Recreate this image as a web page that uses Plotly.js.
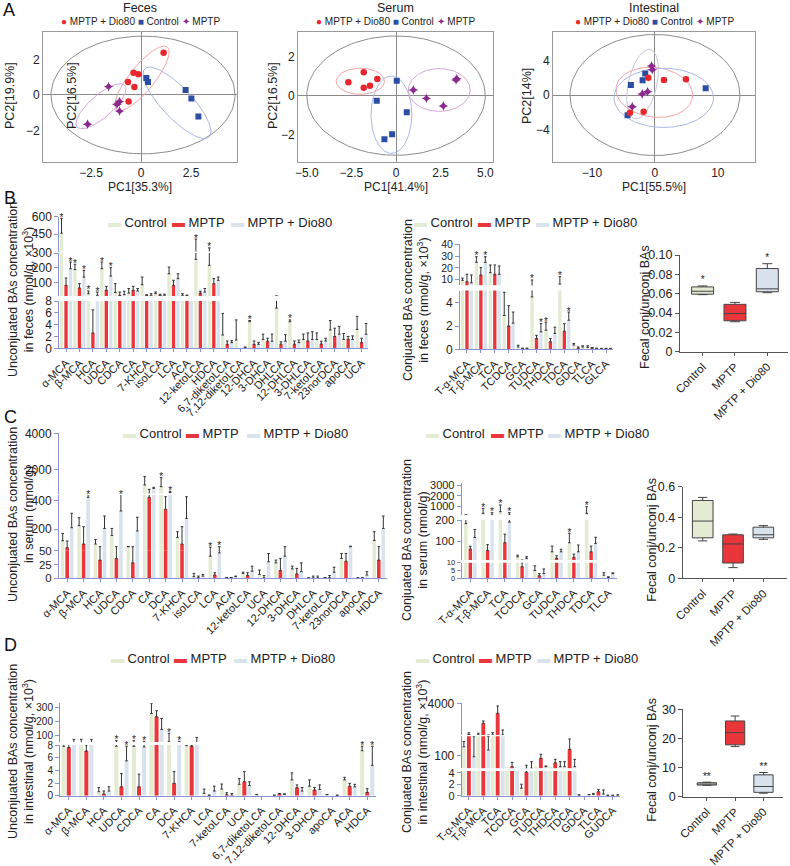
<!DOCTYPE html>
<html><head><meta charset="utf-8">
<script src="https://cdn.plot.ly/plotly-3.0.1.min.js"></script>
<style>html,body{margin:0;padding:0;background:#fff}#chart{width:790px;height:866px}</style>
</head><body><div id="chart"></div>
<script>
// ================= DATA =================
// ---- A: PCA scores ----
const fecesDioX = [1.13,-0.37,-0.13,-0.65,-0.33,-0.62];
const fecesDioY = [2.37,1.25,1.16,0.73,0.45,-0.37];
const fecesCtlX = [0.27,0.35,2.23,2.52,2.87];
const fecesCtlY = [0.95,0.73,0.28,-0.19,-1.21];
const fecesMptpX = [-1.62,-1.07,-1.2,-1.07,-2.67];
const fecesMptpY = [0.47,-0.37,-0.52,-0.9,-1.64];
const fecesEllOuter = [0.1,0,4.6,3.3,0];
const fecesEllDio = [0.05,0.93,2.17,0.65,54.8];
const fecesEllCtl = [1.8,-0.44,2.5,0.8,-50.8];
const fecesEllMptp = [-2.0,-0.63,1.67,0.6,45.4];

const serumDioX = [-2.67,-1.81,-1.05,-1.46,-1.81];
const serumDioY = [0.69,1.2,0.86,0.51,0.41];
const serumCtlX = [0.04,-1.08,0.6,-0.22,-0.65];
const serumCtlY = [0.77,-0.26,-0.86,-1.99,-2.25];
const serumMptpX = [0.97,1.7,2.65,3.36,3.4];
const serumMptpY = [0.29,-0.14,-0.53,0.81,0.87];
const serumEllOuter = [0,0,5.0,3.07,0];
const serumEllDio = [-2.0,0.74,1.35,0.67,0];
const serumEllCtl = [-0.26,-0.98,1.14,1.99,0];
const serumEllMptp = [2.42,0.29,1.73,1.1,0];

const intDioX = [-1.06,1.43,4.93,-1.8,-3.98];
const intDioY = [2.02,1.75,1.83,-1.94,-2.06];
const intCtlX = [-1.54,-1.96,-3.82,8.06,-4.35];
const intCtlY = [2.52,1.71,1.17,0.78,-2.37];
const intMptpX = [-0.53,-0.42,-1.17,-2.02,-3.6];
const intMptpY = [3.38,2.95,0.39,0.12,-1.36];
const intEllOuter = [0,0,13.5,7.05,0];
const intEllDio = [-0.1,0.31,6.1,2.9,-4];
const intEllCtl = [1.4,-0.33,7.9,3.45,0];
const intEllMptp = [-1.97,1.27,4.22,2.2,70];

// ---- B: feces ----
const B_un_cats = ['α-MCA','β-MCA','HCA','UDCA','CDCA','CA','7-KHCA','isoLCA','LCA','ACA','12-ketoLCA','HDCA','6,7-diketoLCA','7,12-diketoLCA','12-DHCA','3-DHCA','DHLCA','12-DHLCA','3-DHLCA','7-ketoLCA','23norDCA','apoCA','UCA'];
const B_un_ctl     = [458,188,26,194,33,30,86,26,160,15,257,217,2.25,1.4,4.5,1.5,6.8,4.5,1.5,1.5,3.1,1.5,3.2];
const B_un_ctlTop  = [586,224,44,239,93,60,138,37,205,26,407,331,5.9,4.8,4.7,2.4,11,4.8,2.4,2.6,4.7,2.5,5.4];
const B_un_mptp    = [82,64,2.6,48,15,48,15,15,82,12,30,93,0.68,0,0.68,1.2,0.7,0.7,1.24,0.73,2.0,1.5,0.96];
const B_un_mptpTop = [131,93,6.5,75,37,75,19,22,116,16,42,127,1.24,0,1.24,1.7,1.1,1.24,2.6,1.2,3.4,2.0,1.7];
const B_un_dio     = [194,138,15,145,19,44,15,15,127,8.5,37,116,0.96,0.17,0.68,1.2,1.2,0.96,1.5,1.24,2.4,1.5,2.4];
const B_un_dioTop  = [239,183,37,201,42,60,26,22,160,9,60,138,1.3,0.2,1.0,2.4,2.3,1.4,2.8,1.7,3.7,2.1,4.2];
const B_un_ctlStar = [1,1,1,1,0,0,0,0,0,0,1,1,0,0,1,0,0,1,0,0,0,0,0];
const B_un_mptpStar= [0,0,0,0,0,0,0,0,0,0,0,0,0,0,0,0,0,0,0,0,0,0,0];
const B_un_dioStar = [1,1,1,1,0,0,0,0,0,0,0,0,0,0,0,0,0,0,0,0,0,0,0];

const B_cj_cats = ['T-α-MCA','T-β-MCA','TCA','TCDCA','GCA','TUDCA','THDCA','TDCA','GDCA','TLCA','GLCA'];
const B_cj_ctl     = [9.3,24.8,15.9,2.9,0.2,4.5,1.64,6.1,0.37,0.17,0.05];
const B_cj_ctlTop  = [11.2,29.6,22.5,4.9,0.35,9.6,2.34,12.4,0.5,0.3,0.08];
const B_cj_mptp    = [8.1,13.9,14.5,2.0,0.05,0.93,0.64,1.55,0.1,0.1,0.05];
const B_cj_mptpTop = [14.5,20.2,22.5,3.75,0.1,1.2,0.93,2.2,0.2,0.15,0.08];
const B_cj_dio     = [7.2,24.8,14.5,2.25,0.05,1.5,1.36,2.5,0.2,0.05,0.05];
const B_cj_dioTop  = [13.9,29.6,21.6,3.2,0.1,2.2,1.9,3.2,0.3,0.1,0.08];
const B_cj_ctlStar = [0,1,0,0,0,1,1,1,0,0,0];
const B_cj_mptpStar= [0,0,0,0,0,0,0,0,0,0,0];
const B_cj_dioStar = [0,1,0,0,0,1,0,1,0,0,0];

const boxCats = ['Control','MPTP','MPTP + Dio80'];
const B_box_low = [0.059,0.031,0.061];
const B_box_q1  = [0.0595,0.032,0.062];
const B_box_med = [0.0625,0.0395,0.065];
const B_box_q3  = [0.067,0.049,0.086];
const B_box_high= [0.068,0.051,0.091];
const B_box_star= ['*','','*'];

// ---- C: serum ----
const C_un_cats = ['α-MCA','β-MCA','HCA','UDCA','CDCA','CA','DCA','7-KHCA','isoLCA','LCA','ACA','12-ketoLCA','UCA','12-DHCA','3-DHCA','DHLCA','7-ketoLCA','23norDCA','apoCA','HDCA'];
const C_un_ctl     = [120,225,97,157,78,1130,1037,143,3,40,1,9,7,28,17,0.6,1,36,0.6,121];
const C_un_ctlTop  = [171,281,129,206,80,1593,1537,183,9,75,1.5,11,15,33,22,1,1.5,45,1,183];
const C_un_mptp    = [71,97,33,36,28,424,340,97,1,6,1,5,0.6,14,8,0.6,1,31,0.6,33];
const C_un_mptpTop = [118,218,78,78,78,889,428,218,4,10,1.5,10,5,36,18,4,5,45,1,78];
const C_un_dio     = [211,424,206,328,188,944,704,276,4,46,3,13,30,40,12,0.6,11,78,6,206];
const C_un_dioTop  = [312,452,293,463,284,1000,780,428,7,78,4,22,45,78,28,4,20,82,12,293];
const C_un_ctlStar = [0,0,0,0,0,0,1,0,0,1,0,0,0,0,0,0,0,0,0,0];
const C_un_mptpStar= [0,0,0,0,0,0,0,0,0,0,0,0,0,0,0,0,0,0,0,0];
const C_un_dioStar = [0,1,0,1,0,0,1,0,0,1,0,0,0,0,0,0,0,0,0,0];

const C_cj_cats = ['T-α-MCA','T-β-MCA','TCA','TCDCA','GCA','TUDCA','THDCA','TDCA','TLCA'];
const C_cj_ctl     = [183,360,512,25,5,49,92,360,2];
const C_cj_ctlTop  = [212,834,1146,33,8,76,137,986,3.6];
const C_cj_mptp    = [62,55,92,7.4,1.6,18,23,49,0.4];
const C_cj_mptpTop = [75,83,133,10,3,30,38,76,1];
const C_cj_dio     = [117,210,190,18,3,49,49,89,3];
const C_cj_dioTop  = [155,420,420,25.7,6,61,81,118,3.5];
const C_cj_ctlStar = [0,1,1,0,0,0,1,1,0];
const C_cj_mptpStar= [0,0,0,0,0,0,0,0,0];
const C_cj_dioStar = [0,1,1,0,0,0,0,0,0];

const C_box_low = [0.245,0.07,0.255];
const C_box_q1  = [0.265,0.1,0.265];
const C_box_med = [0.375,0.225,0.285];
const C_box_q3  = [0.51,0.285,0.335];
const C_box_high= [0.53,0.29,0.345];
const C_box_star= ['','',''];

// ---- D: intestinal ----
const D_un_cats = ['α-MCA','β-MCA','HCA','UDCA','CDCA','CA','DCA','7-KHCA','LCA','7-ketoLCA','UCA','6,7-diketoLCA','7,12-diketoLCA','12-DHCA','3-DHCA','apoCA','ACA','HDCA'];
const D_un_ctl     = [7.8,8.2,0.63,7.8,7.8,256,52,7.9,0.37,1.05,1.8,0.16,0.05,2.5,1.5,0.16,2.5,7.1];
const D_un_ctlTop  = [8.3,69,1.3,60,60,328,113,8.2,1.05,1.84,2.7,0.2,0.1,3.6,2.5,0.2,2.9,7.8];
const D_un_mptp    = [7.6,7.05,0.26,1.4,1.4,232,1.95,7.8,0.05,0.16,2.2,0,0.3,1.26,0.9,0,1.5,0.53];
const D_un_mptpTop = [8.1,8,0.74,3.5,3.4,276,3.8,8.0,0.1,0.47,3.8,0,0.35,1.7,1.3,0,1.95,1.1];
const D_un_dio     = [8.2,8,0.74,5.5,7.7,141,8.1,8.3,0.74,0.1,1.6,0,0.2,0.74,1.0,0.05,1.4,4.8];
const D_un_dioTop  = [69,69,1.4,7.8,55,220,55,83,1.5,0.35,2.2,0,0.3,1.3,1.7,0.1,1.8,7.8];
const D_un_ctlStar = [0,0,0,1,1,0,1,0,0,0,0,0,0,0,0,0,0,1];
const D_un_mptpStar= [0,0,0,0,0,0,0,0,0,0,0,0,0,0,0,0,0,0];
const D_un_dioStar = [0,0,0,1,1,0,1,0,0,0,0,0,0,0,0,0,0,1];

const D_cj_cats = ['T-α-MCA','T-β-MCA','TCA','TCDCA','GCA','TUDCA','THDCA','TDCA','GDCA','TLCA','GUDCA'];
const D_cj_ctl     = [170,260,260,16.6,1.3,17,17,17,0.1,0.23,0.05];
const D_cj_ctlTop  = [209,451,522,16.6,2,17,17,55,0.15,0.4,0.1];
const D_cj_mptp    = [300,1634,2817,16.6,4.1,81,47,150,0,0.7,0.05];
const D_cj_mptpTop = [520,1906,3681,50,28,112,73,229,0,1.1,0.1];
const D_cj_dio     = [93,145,260,16.6,4.5,17,17,17,0.17,0.3,0.1];
const D_cj_dioTop  = [247,250,841,16.6,55,22,55,73,0.2,1.0,0.15];
const D_cj_ctlStar = [0,0,0,0,0,0,0,0,0,0,0];
const D_cj_mptpStar= [0,0,0,0,0,0,0,0,0,0,0];
const D_cj_dioStar = [0,0,0,0,0,0,0,0,0,0,0];

const D_box_low = [3.9,17.2,1.2];
const D_box_q1  = [4.0,17.8,1.5];
const D_box_med = [4.3,22,3.5];
const D_box_q3  = [4.8,26,7.5];
const D_box_high= [5.0,27.7,8.3];
const D_box_star= ['**','','**'];

// ================= DRAWING =================
const W = 790, H = 866;
const FONT = 'Liberation Sans, Arial, Helvetica, sans-serif';
const COL = {ctl:'#e3ebd2', mptp:'#e8363b', dio:'#d8e3ee'};
const AXC = '#8c91cf';
const layout = {width:W, height:H, margin:{l:0,r:0,t:0,b:0}, paper_bgcolor:'#fff', plot_bgcolor:'rgba(0,0,0,0)',
  showlegend:false, font:{family:FONT, size:12, color:'#222'}, annotations:[], shapes:[], boxmode:'overlay'};
const traces = [];
let nx = 0, ny = 0;
const idOf = (l, n) => n === 1 ? l : l + n;
function addX(o){ nx++; layout[idOf('xaxis', nx)] = o; return idOf('x', nx); }
function addY(o){ ny++; layout[idOf('yaxis', ny)] = o; return idOf('y', ny); }
const fx = px => px / W, fy = px => 1 - px / H;
function ann(text, x, y, o){ layout.annotations.push(Object.assign({text, x:fx(x), y:fy(y), xref:'paper', yref:'paper', showarrow:false, xanchor:'center', yanchor:'middle', font:{family:FONT, size:12, color:'#222'}}, o || {})); }

function ellipse(p){
  const [cx, cy, a, b, deg] = p; const t = deg * Math.PI / 180; const xs = [], ys = [];
  for (let k = 0; k <= 120; k++){ const th = 2 * Math.PI * k / 120;
    xs.push(cx + a * Math.cos(th) * Math.cos(t) - b * Math.sin(th) * Math.sin(t));
    ys.push(cy + a * Math.cos(th) * Math.sin(t) + b * Math.sin(th) * Math.cos(t)); }
  return [xs, ys];
}

function pca(c){
  const xref = idOf('x', nx + 1), yref = idOf('y', ny + 1);
  const common = {showline:true, mirror:true, linecolor:'#9a9a9a', linewidth:1, ticks:'',
    zeroline:true, zerolinecolor:'#8a8a8a', zerolinewidth:1, showgrid:false, automargin:false, fixedrange:true, tickfont:{size:12, color:'#222'}};
  addX(Object.assign({domain:[fx(c.xPx[0]), fx(c.xPx[1])], range:c.xr, anchor:yref, tickmode:'array', tickvals:c.xt, ticktext:c.xtt}, common));
  addY(Object.assign({domain:[fy(c.yPx[1]), fy(c.yPx[0])], range:c.yr, anchor:xref, tickmode:'array', tickvals:c.yt, ticktext:c.ytt}, common));
  const ells = [[c.ell[0], '#8c8c8c'], [c.ell[1], '#f3a3a3'], [c.ell[2], '#a9b7e6'], [c.ell[3], c.mptpEllColor]];
  ells.forEach(([p, col]) => { const [xs, ys] = ellipse(p); traces.push({type:'scatter', mode:'lines', x:xs, y:ys, line:{color:col, width:1}, xaxis:xref, yaxis:yref, hoverinfo:'skip'}); });
  traces.push({type:'scatter', mode:'markers', x:c.mptp[0], y:c.mptp[1], marker:{symbol:'star-diamond', size:7, color:'#8b2a8e'}, xaxis:xref, yaxis:yref, hoverinfo:'skip'});
  traces.push({type:'scatter', mode:'markers', x:c.ctl[0], y:c.ctl[1], marker:{symbol:'square', size:6, color:'#2b4ea2'}, xaxis:xref, yaxis:yref, hoverinfo:'skip'});
  traces.push({type:'scatter', mode:'markers', x:c.dio[0], y:c.dio[1], marker:{symbol:'circle', size:6.5, color:'#e8262c'}, xaxis:xref, yaxis:yref, hoverinfo:'skip'});
  const cx = (c.xPx[0] + c.xPx[1]) / 2;
  ann(c.title, cx, 8, {font:{family:FONT, size:12.5, color:'#222'}});
  ann('<span style="color:#e8262c">●</span> MPTP + Dio80 <span style="color:#2b4ea2">■</span> Control <span style="color:#8b2a8e">✦</span> MPTP', cx, 22, {font:{family:FONT, size:10, color:'#222'}});
  ann(c.xtitle, cx, 187, {font:{family:FONT, size:12, color:'#222'}});
  c.ytitles.forEach(([t, x]) => ann(t, x, 96, {textangle:-90, font:{family:FONT, size:12.5, color:'#222'}}));
}

function barChart(c){
  const n = c.cats.length; const idx = c.cats.map((_, i) => i);
  const xref = idOf('x', nx + 1); const lowY = idOf('y', ny + 1);
  addX({domain:[fx(c.xPx[0]), fx(c.xPx[1])], range:[-0.5, n - 0.5], anchor:lowY, tickmode:'array', tickvals:idx, ticktext:c.cats,
    tickangle:-45, tickfont:{size:11, color:'#222'}, showline:true, linecolor:AXC, linewidth:1, ticks:'outside', ticklen:3, tickcolor:AXC,
    showgrid:false, zeroline:false, automargin:false, fixedrange:true});
  const segRefs = c.segs.map(s => addY({domain:[fy(s.px[1]), fy(s.px[0])], range:s.range, anchor:xref, tickmode:'array', tickvals:s.ticks,
    ticktext:s.ticks.map(String), showline:true, linecolor:AXC, linewidth:1, ticks:'outside', ticklen:4, tickcolor:AXC, tickfont:{size:s.fs || 12, color:'#222'},
    showgrid:false, zeroline:false, automargin:false, fixedrange:true}));
  const series = [
    {vals:c.ctl, tops:c.ctlTop, star:c.ctlStar, color:COL.ctl},
    {vals:c.mptp, tops:c.mptpTop, star:c.mptpStar, color:COL.mptp},
    {vals:c.dio, tops:c.dioTop, star:c.dioStar, color:COL.dio}];
  c.segs.forEach((s, k) => series.forEach((ser, j) => {
    // bars reaching into this segment: split into those whose error whisker is visible here and the rest
    const reach = idx.filter(i => k === 0 || ser.tops[i] >= s.range[0]);
    const withErr = reach.filter(i => ser.tops[i] > ser.vals[i] && ser.vals[i] < s.range[1] && ser.tops[i] >= s.range[0]);
    const noErr = reach.filter(i => withErr.indexOf(i) < 0);
    const base = {type:'bar', width:c.bw, offset:(j - 1) * c.pitch - c.bw / 2, xaxis:xref, yaxis:segRefs[k], marker:{color:ser.color, line:{width:0}}, hoverinfo:'skip'};
    if (noErr.length) traces.push(Object.assign({}, base, {x:noErr, y:noErr.map(i => ser.vals[i])}));
    if (withErr.length) traces.push(Object.assign({}, base, {x:withErr, y:withErr.map(i => ser.vals[i]),
      error_y:{type:'data', symmetric:false, array:withErr.map(i => ser.tops[i] - ser.vals[i]), arrayminus:withErr.map(() => 0), color:'#333', thickness:1, width:1.3}}));
  }));
  series.forEach((ser, j) => {
    const by = c.segs.map(() => ({x:[], y:[]}));
    ser.tops.forEach((t, i) => { if (!ser.star[i]) return; let k = 0; c.segs.forEach((s, kk) => { if (t >= s.range[0]) k = kk; });
      by[k].x.push(i + (j - 1) * c.pitch); by[k].y.push(Math.min(t, c.segs[k].range[1])); });
    by.forEach((b, k) => { if (b.x.length) traces.push({type:'scatter', mode:'text', x:b.x, y:b.y, text:b.x.map(() => '*'), textposition:'middle center',
      textfont:{size:10, color:'#222', family:FONT}, xaxis:xref, yaxis:segRefs[k], cliponaxis:false, hoverinfo:'skip'}); });
  });
  const labels = ['Control', 'MPTP', 'MPTP + Dio80']; const cols = [COL.ctl, COL.mptp, COL.dio];
  c.legendX.forEach((x, i) => ann('<span style="color:' + cols[i] + '">▬</span> ' + labels[i], x, c.legendY, {xanchor:'left', font:{family:FONT, size:13, color:'#222'}}));
  ann(c.ytitle, c.ytitlePos[0], c.ytitlePos[1], {textangle:-90, font:{family:FONT, size:12.5, color:'#222'}});
}

function boxChart(c){
  const xref = idOf('x', nx + 1), yref = idOf('y', ny + 1);
  addX({domain:[fx(c.xPx[0]), fx(c.xPx[1])], range:c.xr, anchor:yref, tickmode:'array', tickvals:[0, 1, 2], ticktext:boxCats, tickangle:-45,
    tickfont:{size:11.5, color:'#222'}, showline:true, linecolor:'#555', ticks:'outside', ticklen:3, tickcolor:'#555', showgrid:false, zeroline:false, automargin:false, fixedrange:true});
  addY({domain:[fy(c.yPx[1]), fy(c.yPx[0])], range:c.yr, anchor:xref, tickmode:'array', tickvals:c.yt, ticktext:c.ytt, tickfont:{size:12.5, color:'#222'},
    showline:true, linecolor:'#555', ticks:'outside', ticklen:4, tickcolor:'#555', showgrid:false, zeroline:false, automargin:false, fixedrange:true});
  const fills = [COL.ctl, COL.mptp, COL.dio];
  boxCats.forEach((_, i) => traces.push({type:'box', x:[i], q1:[c.q1[i]], median:[c.med[i]], q3:[c.q3[i]], lowerfence:[c.low[i]], upperfence:[c.high[i]],
    fillcolor:fills[i], line:{color:'#444', width:1}, width:0.68, whiskerwidth:0.45, boxpoints:false, xaxis:xref, yaxis:yref, hoverinfo:'skip'}));
  const sx = [], sy = [], st = [];
  c.star.forEach((s, i) => { if (s) { sx.push(i); sy.push(c.high[i]); st.push(s); } });
  if (sx.length) traces.push({type:'scatter', mode:'text', x:sx, y:sy, text:st, textposition:'top center', textfont:{size:10, color:'#222', family:FONT}, xaxis:xref, yaxis:yref, cliponaxis:false, hoverinfo:'skip'});
  ann('Fecal conj/unconj BAs', c.ytitlePos[0], c.ytitlePos[1], {textangle:-90, font:{family:FONT, size:12.5, color:'#222'}});
}

// ---- Panel A ----
pca({title:'Feces', xPx:[43,237], yPx:[31.5,161.7], xr:[-4.9,4.8], yr:[-3.74,3.56], xt:[-2.5,0,2.5], xtt:['−2.5','0','2.5'], yt:[-2,0,2], ytt:['−2','0','2'],
  dio:[fecesDioX, fecesDioY], ctl:[fecesCtlX, fecesCtlY], mptp:[fecesMptpX, fecesMptpY], ell:[fecesEllOuter, fecesEllDio, fecesEllCtl, fecesEllMptp], mptpEllColor:'#d5a6d5',
  xtitle:'PC1[35.3%]', ytitles:[['PC2[19.9%]', 10], ['PC2[16.5%]', 72]]});
pca({title:'Serum', xPx:[298,493], yPx:[31.5,161.7], xr:[-5.49,5.43], yr:[-3.4,3.3], xt:[-5,-2.5,0,2.5,5], xtt:['−5.0','−2.5','0','2.5','5.0'], yt:[-2,0,2], ytt:['−2','0','2'],
  dio:[serumDioX, serumDioY], ctl:[serumCtlX, serumCtlY], mptp:[serumMptpX, serumMptpY], ell:[serumEllOuter, serumEllDio, serumEllCtl, serumEllMptp], mptpEllColor:'#d5a6d5',
  xtitle:'PC1[41.4%]', ytitles:[['PC2[16.5%]', 273]]});
pca({title:'Intestinal', xPx:[553,755], yPx:[31.5,161.7], xr:[-16.2,15.9], yr:[-7.77,7.4], xt:[-10,0,10], xtt:['−10','0','10'], yt:[-4,0,4], ytt:['−4','0','4'],
  dio:[intDioX, intDioY], ctl:[intCtlX, intCtlY], mptp:[intMptpX, intMptpY], ell:[intEllOuter, intEllDio, intEllCtl, intEllMptp], mptpEllColor:'#c9c3d8',
  xtitle:'PC1[55.5%]', ytitles:[['PC2[14%]', 527]]});

// ---- Panel B ----
barChart({cats:B_un_cats, ctl:B_un_ctl, ctlTop:B_un_ctlTop, mptp:B_un_mptp, mptpTop:B_un_mptpTop, dio:B_un_dio, dioTop:B_un_dioTop,
  ctlStar:B_un_ctlStar, mptpStar:B_un_mptpStar, dioStar:B_un_dioStar, xPx:[59.3,368.3], pitch:0.333, bw:0.25,
  segs:[{range:[0,8], px:[301,348.3], ticks:[0,2,4,6,8]}, {range:[10,300], px:[253,296], ticks:[100,200,300]}, {range:[300,600], px:[216.7,251.5], ticks:[450,600]}],
  legendX:[106,170,229], legendY:222, ytitle:'Unconjuated BAs concentration<br>in feces (nmol/g, ×10<sup>3</sup>)', ytitlePos:[21,290]});
barChart({cats:B_cj_cats, ctl:B_cj_ctl, ctlTop:B_cj_ctlTop, mptp:B_cj_mptp, mptpTop:B_cj_mptpTop, dio:B_cj_dio, dioTop:B_cj_dioTop,
  ctlStar:B_cj_ctlStar, mptpStar:B_cj_mptpStar, dioStar:B_cj_dioStar, xPx:[460,613], pitch:0.32, bw:0.24,
  segs:[{range:[0,5.05], px:[290.5,349.3], ticks:[0,2,4]}, {range:[5,41], px:[243.5,285.3], ticks:[10,20,30,40], fs:10.5}],
  legendX:[412,476,534], legendY:222, ytitle:'Conjuated BAs concentration<br>in feces (nmol/g, ×10<sup>3</sup>)', ytitlePos:[416,300]});
boxChart({xPx:[680,788], xr:[-0.7,2.64], yPx:[255,351.7], yr:[0,0.1], yt:[0,0.02,0.04,0.06,0.08,0.1], ytt:['0','0.02','0.04','0.06','0.08','0.10'],
  low:B_box_low, q1:B_box_q1, med:B_box_med, q3:B_box_q3, high:B_box_high, star:B_box_star, ytitlePos:[645,307]});

// ---- Panel C ----
barChart({cats:C_un_cats, ctl:C_un_ctl, ctlTop:C_un_ctlTop, mptp:C_un_mptp, mptpTop:C_un_mptpTop, dio:C_un_dio, dioTop:C_un_dioTop,
  ctlStar:C_un_ctlStar, mptpStar:C_un_mptpStar, dioStar:C_un_dioStar, xPx:[59,387], pitch:0.275, bw:0.22,
  segs:[{range:[0,50], px:[550.7,578.3], ticks:[0,25,50], fs:11.5}, {range:[50,440], px:[495,550.7], ticks:[200,400]}, {range:[650,4000], px:[433.3,493.6], ticks:[2000,4000]}],
  legendX:[121,184,245], legendY:433, ytitle:'Unconjuated BAs concentration<br>in serum (nmol/g)', ytitlePos:[21,515]});
barChart({cats:C_cj_cats, ctl:C_cj_ctl, ctlTop:C_cj_ctlTop, mptp:C_cj_mptp, mptpTop:C_cj_mptpTop, dio:C_cj_dio, dioTop:C_cj_dioTop,
  ctlStar:C_cj_ctlStar, mptpStar:C_cj_mptpStar, dioStar:C_cj_dioStar, xPx:[461.7,617], pitch:0.26, bw:0.2,
  segs:[{range:[0,10], px:[562.7,578.3], ticks:[0,5,10], fs:7.5}, {range:[10,200], px:[520,560], ticks:[100,200], fs:11.5}, {range:[200,3200], px:[483.3,515], ticks:[1000,2000,3000], fs:11}],
  legendX:[424,489,546], legendY:433, ytitle:'Conjuated BAs concentration<br>in serum (nmol/g)', ytitlePos:[415,540]});
boxChart({xPx:[682.7,787], xr:[-0.66,2.78], yPx:[486.7,578.3], yr:[0,0.6], yt:[0,0.2,0.4,0.6], ytt:['0','0.2','0.4','0.6'],
  low:C_box_low, q1:C_box_q1, med:C_box_med, q3:C_box_q3, high:C_box_high, star:C_box_star, ytitlePos:[651.7,540]});

// ---- Panel D ----
barChart({cats:D_un_cats, ctl:D_un_ctl, ctlTop:D_un_ctlTop, mptp:D_un_mptp, mptpTop:D_un_mptpTop, dio:D_un_dio, dioTop:D_un_dioTop,
  ctlStar:D_un_ctlStar, mptpStar:D_un_mptpStar, dioStar:D_un_dioStar, xPx:[60,376], pitch:0.29, bw:0.23,
  segs:[{range:[0,8], px:[745,795.7], ticks:[0,2,4,6,8], fs:10}, {range:[50,330], px:[703.3,742], ticks:[100,200,300], fs:10}, {range:[380,600], px:[660.7,698.3], ticks:[450,600]}],
  legendX:[109,172,232], legendY:658, ytitle:'Unconjuated BAs concentration<br>in intestinal (nmol/g, ×10<sup>3</sup>)', ytitlePos:[21,752]});
barChart({cats:D_cj_cats, ctl:D_cj_ctl, ctlTop:D_cj_ctlTop, mptp:D_cj_mptp, mptpTop:D_cj_mptpTop, dio:D_cj_dio, dioTop:D_cj_dioTop,
  ctlStar:D_cj_ctlStar, mptpStar:D_cj_mptpStar, dioStar:D_cj_dioStar, xPx:[461.7,620], pitch:0.35, bw:0.27,
  segs:[{range:[0,4.3], px:[771,795.7], ticks:[0,2,4], fs:11}, {range:[4.3,250], px:[736.3,768.3], ticks:[100]}, {range:[250,4000], px:[703.3,735], ticks:[4000]}],
  legendX:[414,477,535], legendY:658, ytitle:'Conjuated BAs concentration<br>in intestinal (nmol/g, ×10<sup>3</sup>)', ytitlePos:[415,752]});
boxChart({xPx:[683.3,783], xr:[-0.83,2.69], yPx:[709.3,796.7], yr:[0,30], yt:[0,10,20,30], ytt:['0','10','20','30'],
  low:D_box_low, q1:D_box_q1, med:D_box_med, q3:D_box_q3, high:D_box_high, star:D_box_star, ytitlePos:[651.7,760]});

// panel letters
[['A',9,10],['B',10,198],['C',10,417],['D',10,645]].forEach(([t,x,y]) => ann(t, x, y, {font:{family:FONT, size:18, color:'#111'}}));

Plotly.newPlot('chart', traces, layout, {displayModeBar:false, staticPlot:true});
</script></body></html>
